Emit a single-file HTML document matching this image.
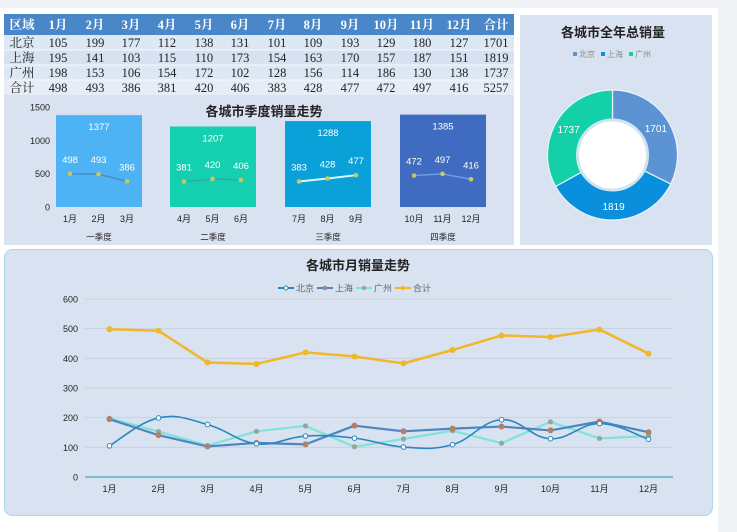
<!DOCTYPE html>
<html><head><meta charset="utf-8"><style>
html,body{margin:0;padding:0;background:#f1f3f6;width:737px;height:532px;overflow:hidden}
svg{display:block;font-family:"Liberation Sans","Noto Sans CJK SC",sans-serif}
</style></head><body>
<svg id="s" width="737" height="532" viewBox="0 0 737 532" xmlns="http://www.w3.org/2000/svg">
<rect x="0" y="8" width="718" height="524" fill="#ffffff"/>
<rect x="4" y="14" width="510" height="231" fill="#d9e2f0"/>
<rect x="4" y="14" width="510" height="21" fill="#4a87c8"/>
<rect x="4" y="35" width="510" height="15" fill="#dde8f5"/>
<rect x="4" y="50" width="510" height="15" fill="#d6e2f1"/>
<rect x="4" y="65" width="510" height="15" fill="#dde8f5"/>
<rect x="4" y="80" width="510" height="15" fill="#e6edf7"/>
<line x1="4" x2="514" y1="50" y2="50" stroke="#f5f8fc" stroke-width="1"/>
<line x1="4" x2="514" y1="65" y2="65" stroke="#f5f8fc" stroke-width="1"/>
<line x1="4" x2="514" y1="80" y2="80" stroke="#f5f8fc" stroke-width="1"/>
<g id="tbl" font-family="Liberation Serif,Noto Serif CJK SC,serif" font-size="12.5" text-anchor="middle"></g>
<rect x="520" y="15" width="192" height="230" fill="#d9e2f0"/>
<text x="613" y="37" font-size="13" font-weight="bold" text-anchor="middle" fill="#222">各城市全年总销量</text>
<g font-size="8" fill="#888">
<rect x="573" y="52" width="4" height="4" fill="#5b93d3"/><text x="579" y="57">北京</text>
<rect x="601" y="52" width="4" height="4" fill="#0a8fdc"/><text x="607" y="57">上海</text>
<rect x="629" y="52" width="4" height="4" fill="#14d0a8"/><text x="635" y="57">广州</text>
</g>
<g id="donut"></g>
<g id="q"></g>
<text x="264" y="116" font-size="13" font-weight="bold" text-anchor="middle" fill="#222">各城市季度销量走势</text>
<rect x="4.5" y="249.5" width="708" height="266" rx="8" fill="#d9e2f0" stroke="#a8d8ea" stroke-width="1"/>
<text x="358" y="270" font-size="13" font-weight="bold" text-anchor="middle" fill="#222">各城市月销量走势</text>
<g id="m"></g>
</svg>
<script>
var NS="http://www.w3.org/2000/svg";
function el(p,t,a,txt){var e=document.createElementNS(NS,t);for(var k in a)e.setAttribute(k,a[k]);if(txt!=null)e.textContent=txt;document.getElementById(p).appendChild(e);return e;}
var bj=[105,199,177,112,138,131,101,109,193,129,180,127],sh=[195,141,103,115,110,173,154,163,170,157,187,151],gz=[198,153,106,154,172,102,128,156,114,186,130,138],tot=[498,493,386,381,420,406,383,428,477,472,497,416];
var cx=[22,58,95,131,167,204,240,277,313,350,386,422,459,496];
var hdr=["区域","1月","2月","3月","4月","5月","6月","7月","8月","9月","10月","11月","12月","合计"];
hdr.forEach(function(h,i){el("tbl","text",{x:cx[i],y:29,fill:"#fff","font-weight":"bold"},h)});
var rows=[["北京"].concat(bj,[1701]),["上海"].concat(sh,[1819]),["广州"].concat(gz,[1737]),["合计"].concat(tot,[5257])];
rows.forEach(function(r,j){r.forEach(function(v,i){el("tbl","text",{x:cx[i],y:47+j*15,fill:"#222"},v)})});
var c=[612.5,155],R=65,r=35,vals=[1701,1819,1737],cols=["#5b93d3","#0a8fdc","#14d0a8"],sum=5257,a0=-Math.PI/2;
function pt(rad,a){return [c[0]+rad*Math.cos(a),c[1]+rad*Math.sin(a)]}
vals.forEach(function(v,i){var a1=a0+v/sum*2*Math.PI;var p1=pt(R,a0),p2=pt(R,a1),p3=pt(r,a1),p4=pt(r,a0);
el("donut","path",{d:"M"+p1+"A"+R+","+R+" 0 0 1 "+p2+"L"+p3+"A"+r+","+r+" 0 0 0 "+p4+"Z",fill:cols[i],stroke:"#e8f6fb","stroke-width":1.2});
var am=(a0+a1)/2,lp=pt(51,am);el("donut","text",{x:lp[0],y:lp[1]+4,"font-size":10,fill:"#fff","text-anchor":"middle"},v);a0=a1;});
el("donut","circle",{cx:c[0],cy:c[1],r:r,fill:"#fff",stroke:"#cfe6f0","stroke-width":3});
var z=207,sc=0.0667;
[0,500,1000,1500].forEach(function(v){el("q","text",{x:50,y:z-v*sc+3.5,"font-size":9,"text-anchor":"end",fill:"#222"},v)});
var qx=[56,170,285,400],qc=["#4db3f5","#14d0b0","#0aa0d8","#3f6cc0"],qt=[1377,1207,1288,1385],qn=["一季度","二季度","三季度","四季度"],lc=["#4a8cc0","#3aa6a8","#d8fbff","#6f9be0"];
for(var q=0;q<4;q++){var x0=qx[q],tp=z-qt[q]*sc;
el("q","rect",{x:x0,y:tp,width:86,height:z-tp,fill:qc[q]});
el("q","text",{x:x0+43,y:tp+15,"font-size":9.5,"text-anchor":"middle",fill:"#fff"},qt[q]);
var pts=[];for(var k=0;k<3;k++){var v=tot[q*3+k],px=x0+14+k*28.5,py=z-v*sc;pts.push(px+","+py);}
el("q","polyline",{points:pts.join(" "),fill:"none",stroke:lc[q],"stroke-width":q==2?2:1.5});
for(var k=0;k<3;k++){var v=tot[q*3+k],px=x0+14+k*28.5,py=z-v*sc;
el("q","circle",{cx:px,cy:py,r:2.3,fill:"#c8c860"});
el("q","text",{x:px,y:py-11,"font-size":9.5,"text-anchor":"middle",fill:"#fff"},v);
el("q","text",{x:px,y:222,"font-size":9,"text-anchor":"middle",fill:"#222"},(q*3+k+1)+"月");}
el("q","text",{x:x0+43,y:240,"font-size":8.5,"text-anchor":"middle",fill:"#222"},qn[q]);}
var Z=477,S=0.2967,X=function(i){return 109.5+49*i};
for(var v=0;v<=600;v+=100){var y=Z-v*S;el("m","line",{x1:85,x2:673,y1:y,y2:y,stroke:v==0?"#3ab0b8":"#c5cedc","stroke-width":v==0?1.2:0.8});
el("m","text",{x:78,y:y+3.5,"font-size":9,"text-anchor":"end",fill:"#222"},v);}
for(var i=0;i<12;i++)el("m","text",{x:X(i),y:492,"font-size":9,"text-anchor":"middle",fill:"#222"},(i+1)+"月");
function P(d){return d.map(function(v,i){return [X(i),Z-v*S]})}
function smooth(p){var d="M"+p[0];for(var i=0;i<p.length-1;i++){var p0=p[i-1]||p[i],p1=p[i],p2=p[i+1],p3=p[i+2]||p2;var t=0.2;
d+="C"+(p1[0]+(p2[0]-p0[0])*t)+","+(p1[1]+(p2[1]-p0[1])*t)+" "+(p2[0]-(p3[0]-p1[0])*t)+","+(p2[1]-(p3[1]-p1[1])*t)+" "+p2;}return d}
function line(d,col,w,sm){var p=P(d);el("m","path",{d:sm?smooth(p):"M"+p.join("L"),fill:"none",stroke:col,"stroke-width":w,"stroke-linejoin":"round"});return p}
var pt2=line(tot,"#f0b828",2.5,false);pt2.forEach(function(p){el("m","circle",{cx:p[0],cy:p[1],r:3,fill:"#f0b828"})});
var pg=line(gz,"#7de3dc",2.2,false);
var ps=line(sh,"#4f86c0",2.2,false);
var pb=line(bj,"#2a88bf",1.6,true);
pg.forEach(function(p){el("m","circle",{cx:p[0],cy:p[1],r:2.6,fill:"#8fa8a0"})});
ps.forEach(function(p){el("m","circle",{cx:p[0],cy:p[1],r:3,fill:"#b08068"})});
pb.forEach(function(p){el("m","circle",{cx:p[0],cy:p[1],r:2.3,fill:"#fff",stroke:"#2a88bf","stroke-width":1})});
var lg=[[278,"#2a88bf","北京","o"],[317,"#4f86c0","上海","b"],[356,"#7de3dc","广州","g"],[395,"#f0b828","合计","t"]];
lg.forEach(function(l){var x=l[0],y=288;el("m","line",{x1:x,x2:x+16,y1:y,y2:y,stroke:l[1],"stroke-width":2});
if(l[3]=="o")el("m","circle",{cx:x+8,cy:y,r:2,fill:"#fff",stroke:l[1]});
else el("m","circle",{cx:x+8,cy:y,r:2.2,fill:l[3]=="b"?"#b08068":l[3]=="g"?"#8fa8a0":"#f0b828"});
el("m","text",{x:x+18,y:y+3.5,"font-size":9,fill:"#666"},l[2]);});
</script>
</body></html>
